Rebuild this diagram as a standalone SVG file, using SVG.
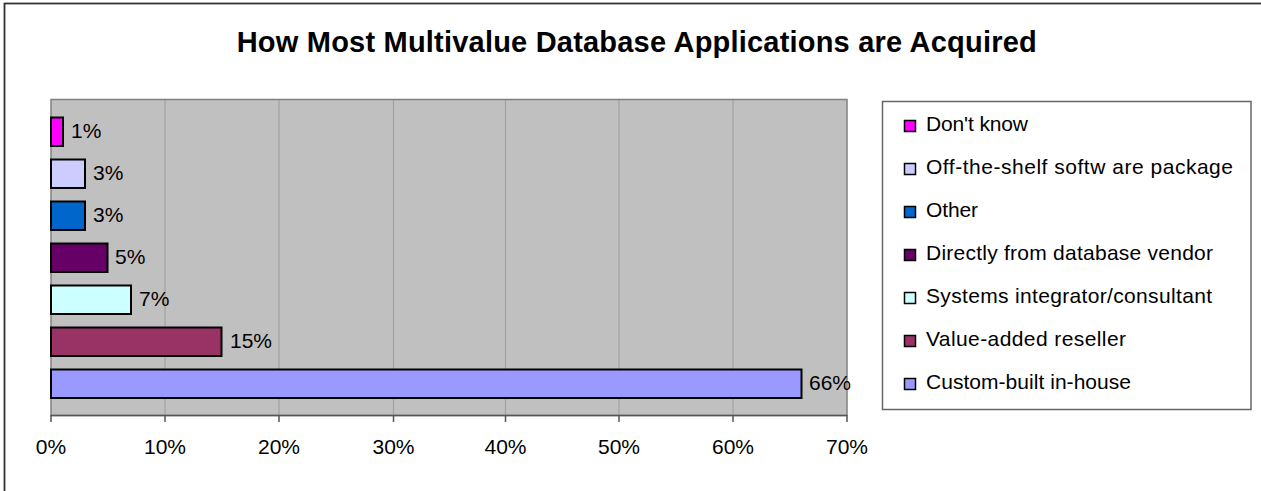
<svg xmlns="http://www.w3.org/2000/svg" width="1261" height="491" viewBox="0 0 1261 491">
<style>
text{font-family:"Liberation Sans",Arial,sans-serif;fill:#000}
.t{font-size:29px;font-weight:bold;text-anchor:middle}
.lb{font-size:21px}
.ax{font-size:21px;text-anchor:middle}
.lg{font-size:21px}
.bar{stroke:#000;stroke-width:2}
.sw{stroke:#000;stroke-width:1.5}
.grid{stroke:#a0a0a0;stroke-width:1.2}
</style>
<rect x="0" y="0" width="1261" height="491" fill="#fff"/>
<rect x="4.5" y="3.5" width="1300" height="600" fill="#fff" stroke="#333" stroke-width="1.8"/>
<g id="title"><text class="t" x="636.7" y="52" textLength="800" lengthAdjust="spacing">How Most Multivalue Database Applications are Acquired</text></g>
<g id="plot">
<rect x="51" y="99.5" width="796" height="316" fill="#c0c0c0" stroke="#808080" stroke-width="1.5"/>
<g class="grid">
<line x1="165" y1="100" x2="165" y2="415"/>
<line x1="279" y1="100" x2="279" y2="415"/>
<line x1="393.5" y1="100" x2="393.5" y2="415"/>
<line x1="505.5" y1="100" x2="505.5" y2="415"/>
<line x1="619" y1="100" x2="619" y2="415"/>
<line x1="733" y1="100" x2="733" y2="415"/>
</g>
<g stroke="#555" stroke-width="1.5">
<line x1="51" y1="415.5" x2="847" y2="415.5"/>
<line x1="51" y1="415" x2="51" y2="422"/>
<line x1="165" y1="415" x2="165" y2="422"/>
<line x1="279" y1="415" x2="279" y2="422"/>
<line x1="393.5" y1="415" x2="393.5" y2="422"/>
<line x1="505.5" y1="415" x2="505.5" y2="422"/>
<line x1="619" y1="415" x2="619" y2="422"/>
<line x1="733" y1="415" x2="733" y2="422"/>
<line x1="847" y1="415" x2="847" y2="422"/>
</g>
</g>
<g id="bars">
<g id="bar-dontknow"><rect class="bar" x="51" y="117.5" width="12" height="28.5" fill="#ff00ff"/><text class="lb" x="71" y="138">1%</text></g>
<g id="bar-offshelf"><rect class="bar" x="51" y="159.5" width="34" height="28.5" fill="#ccccff"/><text class="lb" x="93" y="180">3%</text></g>
<g id="bar-other"><rect class="bar" x="51" y="201.5" width="34" height="28.5" fill="#0066cc"/><text class="lb" x="93" y="222">3%</text></g>
<g id="bar-vendor"><rect class="bar" x="51" y="243.5" width="56.5" height="28.5" fill="#660066"/><text class="lb" x="115" y="264">5%</text></g>
<g id="bar-integrator"><rect class="bar" x="51" y="285.5" width="80" height="28.5" fill="#ccffff"/><text class="lb" x="139" y="306">7%</text></g>
<g id="bar-var"><rect class="bar" x="51" y="327.5" width="170.5" height="28.5" fill="#993366"/><text class="lb" x="230" y="348">15%</text></g>
<g id="bar-custom"><rect class="bar" x="51" y="369.5" width="750.5" height="28.5" fill="#9999ff"/><text class="lb" x="809" y="390">66%</text></g>
</g>
<g id="axis-labels">
<text class="ax" x="51" y="454">0%</text>
<text class="ax" x="165" y="454">10%</text>
<text class="ax" x="279" y="454">20%</text>
<text class="ax" x="393.5" y="454">30%</text>
<text class="ax" x="505.5" y="454">40%</text>
<text class="ax" x="619" y="454">50%</text>
<text class="ax" x="733" y="454">60%</text>
<text class="ax" x="847" y="454">70%</text>
</g>
<g id="legend">
<rect x="882.5" y="101.5" width="368.5" height="308" fill="#fff" stroke="#666" stroke-width="1.5"/>
<g id="leg-1"><rect class="sw" x="904.5" y="120.5" width="11" height="11" fill="#ff00ff"/><text class="lg" x="926" y="130.5" textLength="102" lengthAdjust="spacing">Don't know</text></g>
<g id="leg-2"><rect class="sw" x="904.5" y="163.5" width="11" height="11" fill="#ccccff"/><text class="lg" x="926" y="173.5" textLength="307" lengthAdjust="spacing">Off-the-shelf softw are package</text></g>
<g id="leg-3"><rect class="sw" x="904.5" y="206.5" width="11" height="11" fill="#0066cc"/><text class="lg" x="926" y="216.5" textLength="52" lengthAdjust="spacing">Other</text></g>
<g id="leg-4"><rect class="sw" x="904.5" y="249.5" width="11" height="11" fill="#660066"/><text class="lg" x="926" y="259.5" textLength="287" lengthAdjust="spacing">Directly from database vendor</text></g>
<g id="leg-5"><rect class="sw" x="904.5" y="292.5" width="11" height="11" fill="#ccffff"/><text class="lg" x="926" y="302.5" textLength="286" lengthAdjust="spacing">Systems integrator/consultant</text></g>
<g id="leg-6"><rect class="sw" x="904.5" y="335.5" width="11" height="11" fill="#993366"/><text class="lg" x="926" y="345.5" textLength="200" lengthAdjust="spacing">Value-added reseller</text></g>
<g id="leg-7"><rect class="sw" x="904.5" y="378.5" width="11" height="11" fill="#9999ff"/><text class="lg" x="926" y="388.5" textLength="205" lengthAdjust="spacing">Custom-built in-house</text></g>
</g>
</svg>
